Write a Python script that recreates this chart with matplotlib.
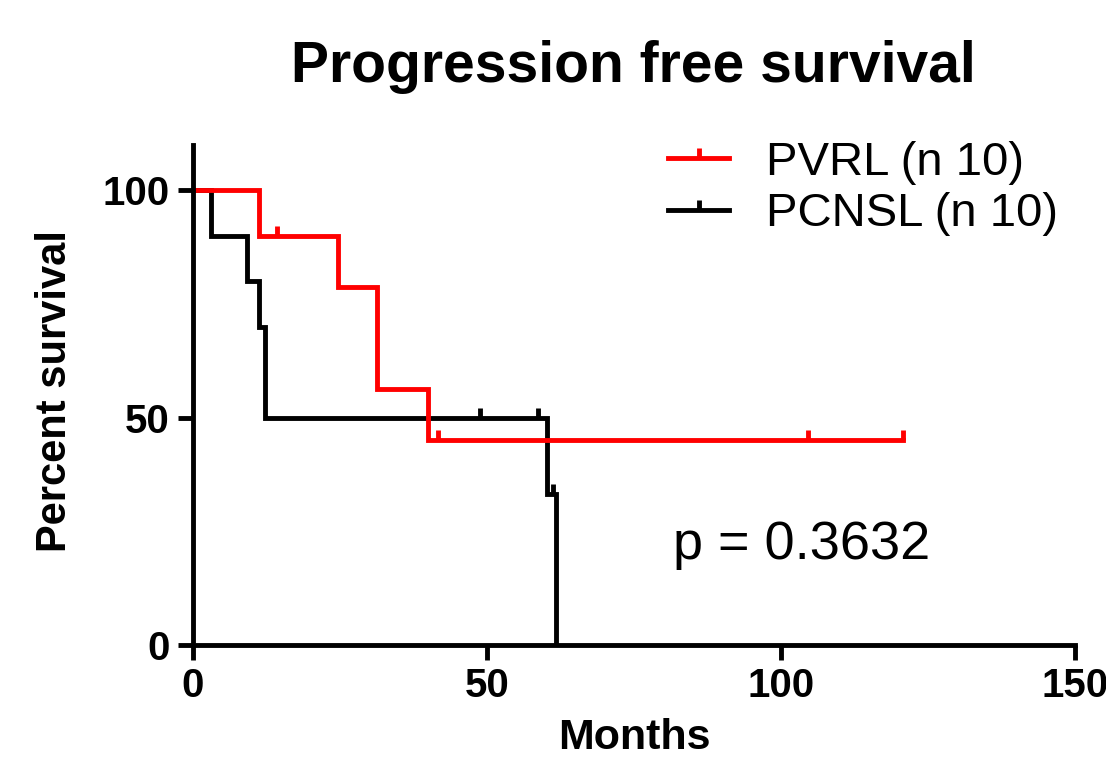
import matplotlib
matplotlib.use("Agg")
import matplotlib.pyplot as plt
from matplotlib.path import Path
from matplotlib.lines import Line2D

plt.rcParams['font.family'] = ['Liberation Sans', 'DejaVu Sans']

# ---- data ----
pvrl_times = [0, 11.2, 24.7, 31.3, 40.0, 120.7]
pvrl_surv = [100, 90, 78.75, 56.25, 45, 45]
pvrl_censor_t = [14.3, 41.7, 104.6, 120.7]
pvrl_censor_s = [90, 45, 45, 45]

pcnsl_times = [0, 3.1, 9.2, 11.2, 12.2, 60.2, 61.7]
pcnsl_surv = [100, 90, 80, 70, 50, 33.33, 0]
pcnsl_censor_t = [48.8, 58.7, 61.2]
pcnsl_censor_s = [50, 50, 33.33]

labels = ["PVRL (n 10)", "PCNSL (n 10)"]
colors = ["#ff0000", "#000000"]
title = "Progression free survival"
xlabel = "Months"
ylabel = "Percent survival"
p_text = "p = 0.3632"
xticks = [0, 50, 100, 150]
yticks = [0, 50, 100]

tick_marker = Path([(0, 0), (0, 1)], [Path.MOVETO, Path.LINETO])

fig = plt.figure(figsize=(11.06, 7.58), dpi=100)
ax = fig.add_axes([193/1106, (758-645)/758, 882/1106, 500/758])

lw = 3.5
for t, s, ct, cs, c in [(pvrl_times, pvrl_surv, pvrl_censor_t, pvrl_censor_s, colors[0]),
                        (pcnsl_times, pcnsl_surv, pcnsl_censor_t, pcnsl_censor_s, colors[1])][::-1]:
    ax.step(t, s, where='post', color=c, lw=lw, solid_joinstyle='miter')
    ax.plot(ct, cs, ls='none', marker=tick_marker, ms=14, mew=lw, mec=c, color=c)

ax.set_xlim(0, 150)
ax.set_ylim(0, 110)
ax.set_xticks(xticks)
ax.set_yticks(yticks)
for sp in ['top', 'right']:
    ax.spines[sp].set_visible(False)
for sp in ['left', 'bottom']:
    ax.spines[sp].set_linewidth(lw)
ax.tick_params(axis='both', width=lw, length=11, direction='out')
ax.tick_params(axis='y', pad=6)
ax.tick_params(axis='x', pad=5)
for lab in ax.get_xticklabels() + ax.get_yticklabels():
    lab.set_fontsize(29)
    lab.set_fontweight('bold')

ax.set_title(title, fontsize=41, fontweight='bold', x=0.499, y=1.155, va='center', pad=0)
ax.set_xlabel(xlabel, fontsize=31, fontweight='bold', va='baseline')
ax.xaxis.set_label_coords(0.5, (645 - 749) / 500)
ax.set_ylabel(ylabel, fontsize=30, fontweight='bold', va='center')
ax.yaxis.set_label_coords(-0.1565, 0.508)

ax.text(81.6, 21.9, p_text, fontsize=39, ha='left', va='center')

handles = [Line2D([], [], color=colors[0], lw=lw, marker=tick_marker, ms=14, mew=lw),
           Line2D([], [], color=colors[1], lw=lw, marker=tick_marker, ms=14, mew=lw)]
ax.legend(handles, labels, loc='upper left', bbox_to_anchor=(668/1106, 1 - 141/758),
          bbox_transform=fig.transFigure, frameon=False, fontsize=34,
          handlelength=1.3, handletextpad=0.78, labelspacing=0.15, borderpad=0,
          borderaxespad=0, numpoints=1)

fig.savefig("out.png", dpi=100)
